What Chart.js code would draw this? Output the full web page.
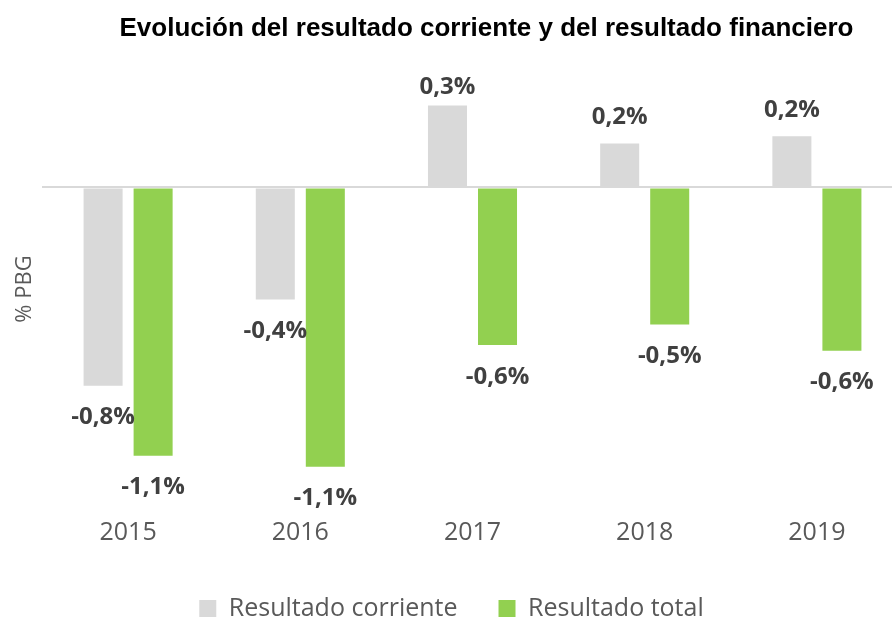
<!DOCTYPE html>
<html>
<head>
<meta charset="utf-8">
<script src="https://cdn.jsdelivr.net/npm/chart.js@4"></script>
<style>
  html, body { margin: 0; padding: 0; background: #fff; overflow: hidden; }
  #wrap { position: relative; width: 903px; height: 631px; }
</style>
</head>
<body>
<div id="wrap"><canvas id="resultChart"></canvas></div>
<script>
// ─── Data (% PBG) ───
const years = ['2015', '2016', '2017', '2018', '2019'];
const resultadoCorriente = [-0.787, -0.445, 0.325, 0.175, 0.203];
const resultadoTotal = [-1.065, -1.108, -0.625, -0.544, -0.648];
const seriesNames = ['Resultado corriente', 'Resultado total'];

const titleText = 'Evolución del resultado corriente y del resultado financiero';
const yTitleText = '% PBG';

const fmt = (v) => (Math.round(v * 10) / 10).toFixed(1).replace('.', ',') + '%';

// Labels above / below each bar, title and axis title
const labelPlugin = {
    id: 'barLabels',
    afterDatasetsDraw(chart) {
        const { ctx, chartArea } = chart;
        ctx.save();
        ctx.font = "bold 24px 'Open Sans', sans-serif";
        ctx.fillStyle = '#404040';
        ctx.textAlign = 'center';
        ctx.textBaseline = 'alphabetic';
        chart.data.datasets.forEach((ds, di) => {
            chart.getDatasetMeta(di).data.forEach((bar, i) => {
                const v = ds.data[i];
                let cy;
                if (v >= 0) {
                    cy = Math.max(bar.y - 28, chartArea.top + 9.5);
                } else {
                    cy = bar.y + 30;
                }
                ctx.fillText(fmt(v), bar.x, cy + 8.6);
            });
        });
        ctx.restore();
    },
    afterDraw(chart) {
        const { ctx } = chart;
        ctx.save();
        ctx.font = "bold 26px 'Liberation Sans', Arial, sans-serif";
        ctx.fillStyle = '#000';
        ctx.textAlign = 'center';
        ctx.textBaseline = 'alphabetic';
        ctx.fillText(titleText, 486.5, 36);

        ctx.translate(25, 289);
        ctx.rotate(-Math.PI / 2);
        ctx.font = "22px 'Open Sans', sans-serif";
        ctx.fillStyle = '#595959';
        ctx.textBaseline = 'middle';
        ctx.fillText(yTitleText, 0, 0);
        ctx.restore();
    }
};

new Chart(document.getElementById('resultChart'), {
    type: 'bar',
    data: {
        labels: years,
        datasets: [{
            label: seriesNames[0],
            data: resultadoCorriente,
            backgroundColor: '#d9d9d9',
            borderWidth: 0,
            categoryPercentage: 0.581,
            barPercentage: 0.78
        }, {
            label: seriesNames[1],
            data: resultadoTotal,
            backgroundColor: '#92d050',
            borderWidth: 0,
            categoryPercentage: 0.581,
            barPercentage: 0.78
        }]
    },
    options: {
        responsive: true,
        maintainAspectRatio: false,
        animation: false,
        layout: {
            padding: { top: 76, right: 0, bottom: 0, left: 0 }
        },
        plugins: {
            title: { display: false },
            tooltip: { enabled: false },
            legend: {
                position: 'bottom',
                labels: {
                    color: '#595959',
                    font: { family: "'Open Sans', sans-serif", size: 25 },
                    boxWidth: 17,
                    boxHeight: 17,
                    padding: 41
                }
            }
        },
        scales: {
            x: {
                grid: { display: false },
                border: { display: false },
                ticks: {
                    color: '#595959',
                    padding: -5,
                    font: { family: "'Open Sans', sans-serif", size: 25 }
                },
                afterFit: (scale) => { scale.height = 40; }
            },
            y: {
                min: -1.3,
                max: 0.4425,
                border: { display: false },
                ticks: { display: false, stepSize: 0.1 },
                grid: {
                    drawTicks: false,
                    lineWidth: 2,
                    color: (c) => (Math.abs(c.tick.value) < 1e-9 ? '#d9d9d9' : 'rgba(0,0,0,0)')
                },
                afterFit: (scale) => { scale.width = 42; }
            }
        }
    },
    plugins: [labelPlugin]
});
</script>
</body>
</html>
